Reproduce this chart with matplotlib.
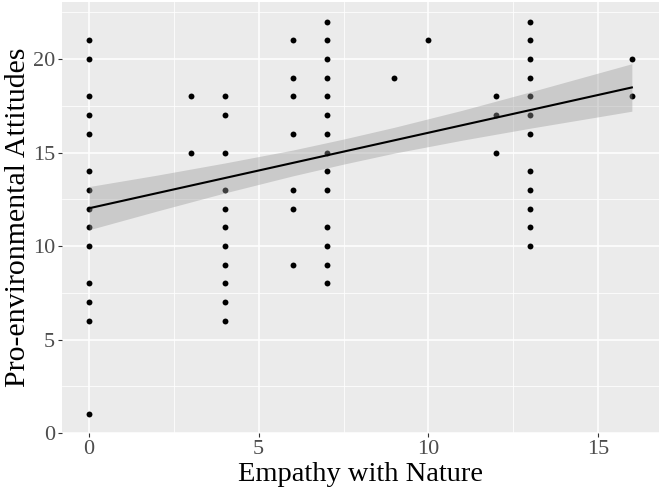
import numpy as np
import matplotlib
matplotlib.use("Agg")
import matplotlib.pyplot as plt
from matplotlib.ticker import MultipleLocator

# Data
empathy = [0]*14 + [3]*2 + [4]*11 + [6]*7 + [7]*14 + [9] + [10] + [12]*3 + [13]*12 + [16]*2
attitudes = ([21, 20, 18, 17, 16, 14, 13, 12, 11, 10, 8, 7, 6, 1]
             + [18, 15]
             + [18, 17, 15, 13, 12, 11, 10, 9, 8, 7, 6]
             + [21, 19, 18, 16, 13, 12, 9]
             + [22, 21, 20, 19, 18, 17, 16, 15, 14, 13, 11, 10, 9, 8]
             + [19]
             + [21]
             + [18, 17, 15]
             + [22, 21, 20, 19, 18, 17, 16, 14, 13, 12, 11, 10]
             + [20, 18])

# Fitted line and its 95% confidence band
fit_x = [0, 16]
fit_y = [12.02, 18.48]
band_x = [0, 2, 4, 6, 7.5, 9, 11, 13, 16]
band_lo = [10.87, 11.87, 12.84, 13.75, 14.38, 14.97, 15.66, 16.30, 17.21]
band_hi = [13.18, 13.79, 14.44, 15.13, 15.72, 16.35, 17.26, 18.24, 19.75]

x_label = "Empathy with Nature"
y_label = "Pro-environmental Attitudes"
x_ticks = [0, 5, 10, 15]
y_ticks = [0, 5, 10, 15, 20]

plt.rcParams['font.family'] = ['Liberation Serif', 'DejaVu Serif']

fig = plt.figure(figsize=(6.61, 4.92), dpi=100)
ax = fig.add_axes([62/661, 1 - 433/492, 597/661, 431/492])
ax.set_facecolor('#EBEBEB')

ax.scatter(empathy, attitudes, s=18, color='black', zorder=3, linewidths=0)
ax.fill_between(band_x, band_lo, band_hi, color='#999999', alpha=0.4,
                linewidth=0, zorder=4)
ax.plot(fit_x, fit_y, color='black', linewidth=1.5, zorder=5)

ax.set_xlim(-0.8, 16.8)
ax.set_ylim(0, 23.05)
ax.xaxis.set_minor_locator(MultipleLocator(2.5))
ax.yaxis.set_minor_locator(MultipleLocator(2.5))
ax.set_xticks(x_ticks)
ax.set_yticks(y_ticks)
ax.grid(which='major', color='white', linewidth=1.1, zorder=0)
ax.grid(which='minor', color='white', linewidth=0.55, zorder=0)
ax.set_axisbelow(True)
for sp in ax.spines.values():
    sp.set_visible(False)
ax.tick_params(which='major', length=3, width=0.8, color='#333333',
               labelcolor='#4D4D4D', labelsize=16, pad=2)
ax.tick_params(which='minor', length=0)

ax.set_xlabel(x_label, fontsize=20.5, color='black', labelpad=2.5)
ax.set_ylabel(y_label, fontsize=21.5, color='black', labelpad=1)

fig.savefig('out.png', dpi=100)
